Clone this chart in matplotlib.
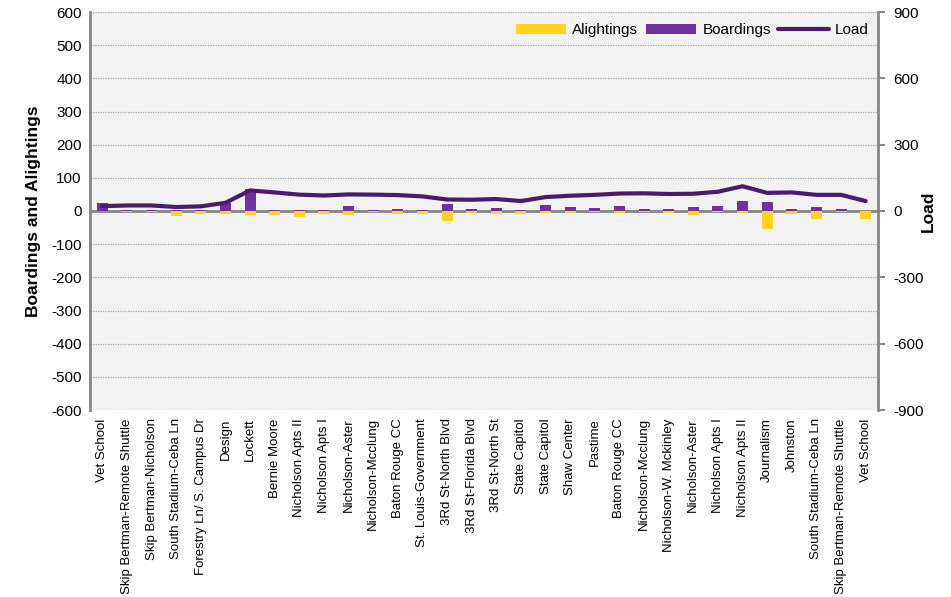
import matplotlib
matplotlib.use("Agg")
import matplotlib.pyplot as plt
import numpy as np

plt.rcParams['font.family'] = ['Liberation Sans', 'DejaVu Sans']
plt.rcParams['axes.unicode_minus'] = False

stops = ["Vet School", "Skip Bertman-Remote Shuttle", "Skip Bertman-Nicholson",
         "South Stadium-Ceba Ln", "Forestry Ln/ S. Campus Dr", "Design", "Lockett",
         "Bernie Moore", "Nicholson Apts II", "Nicholson Apts I", "Nicholson-Aster",
         "Nicholson-Mcclung", "Baton Rouge CC", "St. Louis-Government",
         "3Rd St-North Blvd", "3Rd St-Florida Blvd", "3Rd St-North St",
         "State Capitol", "State Capitol", "Shaw Center", "Pastime", "Baton Rouge CC",
         "Nicholson-Mcclung", "Nicholson-W. Mckinley", "Nicholson-Aster",
         "Nicholson Apts I", "Nicholson Apts II", "Journalism", "Johnston",
         "South Stadium-Ceba Ln", "Skip Bertman-Remote Shuttle", "Vet School"]

boardings = [24, 4, 2, 3, 3, 25, 67, 3, 3, 3, 16, 3, 5, 4, 20, 7,
             8, 3, 18, 11, 8, 14, 5, 5, 11, 14, 29, 28, 7, 11, 5, 0]
alightings = [0, -2, -2, -15, -9, -8, -12, -12, -19, -8, -12, -2, -9, -9, -31, -6,
              -8, -9, -5, -6, -2, -6, -2, -6, -12, -3, -5, -54, -8, -23, -4, -24]
load = [22, 25, 25, 18, 21, 37, 93, 84, 74, 70, 75, 74, 72, 66, 52, 51,
        54, 45, 63, 69, 73, 79, 80, 77, 78, 87, 112, 82, 84, 73, 73, 45]

purple = "#7030A0"
yellow = "#FFD320"
line_c = "#4B1C6E"
grey = "#868686"

fig = plt.figure(figsize=(9.51, 5.97), dpi=100)
ax = fig.add_axes([90/951, 1-410/597, 788/951, 398/597])
ax.set_facecolor("#F2F2F2")

x = np.arange(len(stops))
ax.bar(x, alightings, width=0.45, color=yellow, label="Alightings", zorder=3)
ax.bar(x, boardings, width=0.45, color=purple, label="Boardings", zorder=3)

ax.set_xlim(-0.5, len(stops)-0.5)
ax.set_ylim(-600, 600)
ax.set_yticks(range(-600, 601, 100))
ax.yaxis.grid(True, linestyle=(0, (1, 1)), color="#A6A6A6", linewidth=0.9)
ax.set_axisbelow(True)
ax.axhline(0, color=grey, linewidth=2, zorder=2)
ax.tick_params(axis='y', length=0, labelsize=11, pad=6)
ax.tick_params(axis='x', length=0, labelsize=9.5, pad=6)
ax.set_xticks(x)
ax.set_xticklabels(stops, rotation=90)
for s in ['top', 'bottom', 'right']:
    ax.spines[s].set_visible(False)
ax.spines['left'].set_color(grey)
ax.spines['left'].set_linewidth(2)
ax.set_ylabel("Boardings and Alightings", fontsize=12.5, fontweight='bold')
ax.yaxis.set_label_coords(-0.062, 0.5)

ax2 = ax.twinx()
ax2.plot(x, load, color=line_c, linewidth=3, solid_joinstyle='round',
         solid_capstyle='round', label="Load", zorder=4)
ax2.set_ylim(-900, 900)
ax2.set_yticks(range(-900, 901, 300))
ax2.tick_params(axis='y', length=5, color=grey, width=1.5, labelsize=11, pad=6)
for s in ['top', 'bottom', 'left']:
    ax2.spines[s].set_visible(False)
ax2.spines['right'].set_color(grey)
ax2.spines['right'].set_linewidth(2)
ax2.set_ylabel("Load", fontsize=12.5, fontweight='bold')
ax2.yaxis.set_label_coords(1.055, 0.5)

h1, l1 = ax.get_legend_handles_labels()
h2, l2 = ax2.get_legend_handles_labels()
ax2.legend(h1 + h2, l1 + l2, loc='upper right', ncol=3, frameon=False,
           fontsize=11, handlelength=3.3, handleheight=0.6, columnspacing=0.5,
           handletextpad=0.4, bbox_to_anchor=(1.0, 0.995), borderaxespad=0.2)

fig.savefig("out.png", dpi=100)
